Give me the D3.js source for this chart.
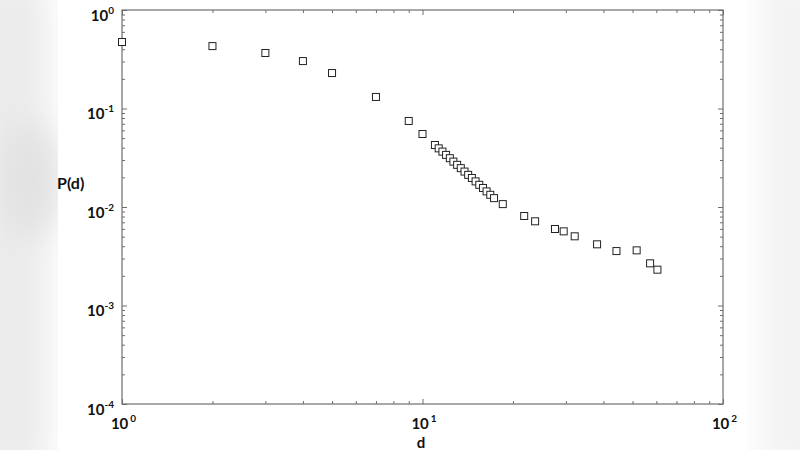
<!DOCTYPE html>
<html><head><meta charset="utf-8">
<script src="https://cdn.jsdelivr.net/npm/d3@7"></script>
<style>body{margin:0;background:#fff;}svg{display:block;}</style>
</head><body>
<svg id="c" width="800" height="450"></svg>
<script>
const dValues = [1,2,3,4,5,7,9,10,
  11.0,11.32,11.65,11.98,12.33,12.67,13.04,13.41,13.80,14.19,14.60,15.02,15.45,15.90,16.34,16.81,17.30,
  18.5,21.8,23.7,27.6,29.5,32.1,38.1,44.2,51.6,57.2,60.5];
const pValues = [0.473,0.43,0.366,0.303,0.229,0.131,0.0747,0.0551,
  0.0426,0.0394,0.0365,0.0338,0.0313,0.0289,0.0268,0.0248,0.0229,0.0212,0.0197,0.0182,0.0168,0.0156,0.0144,0.0133,0.0123,
  0.0107,0.0081,0.00716,0.00598,0.00566,0.00504,0.00418,0.00357,0.00363,0.00268,0.00231];
const xMajor = [1,10,100];
const xExp = ["0","1","2"];
const yMajor = [1,0.1,0.01,0.001,0.0001];
const yExp = ["0","-1","-2","-3","-4"];
const xLabel = "d", yLabel = "P(d)";

const svg = d3.select("#c");
const W=800,H=450;
const m = {l:122, r:723, t:10, b:404};

// soft background
const defs = svg.append("defs");
const f = defs.append("filter").attr("id","bl").attr("x","-50%").attr("y","-50%").attr("width","200%").attr("height","200%");
f.append("feGaussianBlur").attr("stdDeviation",16);
svg.append("rect").attr("width",W).attr("height",H).attr("fill","#fff");
svg.append("rect").attr("x",-30).attr("y",-20).attr("width",78).attr("height",490).attr("fill","#ebebeb").attr("filter","url(#bl)");
svg.append("ellipse").attr("cx",30).attr("cy",180).attr("rx",30).attr("ry",60).attr("fill","#e2e2e2").attr("filter","url(#bl)");
svg.append("rect").attr("x",760).attr("y",-20).attr("width",100).attr("height",490).attr("fill","#f3f3f3").attr("filter","url(#bl)");
svg.append("rect").attr("x",58).attr("y",0).attr("width",690).attr("height",H).attr("fill","#fff");

const x = d3.scaleLog().domain([1,100]).range([m.l,m.r]);
const y = d3.scaleLog().domain([1e-4,1]).range([m.b,m.t]);

const minorX = [];
for (let dec of [1,10]) for (let k=2;k<=9;k++) minorX.push(dec*k);
const minorY = [];
for (let dec of [1e-4,1e-3,1e-2,1e-1]) for (let k=2;k<=9;k++) minorY.push(dec*k);

const axCol = "#6e6e6e";
function styleAxis(g){
  g.select(".domain").remove();
  g.selectAll(".tick line").attr("stroke",axCol).attr("stroke-width",1);
}
function supLabels(g, exps, isY){
  g.selectAll(".tick text").each(function(v,i){
    const t = d3.select(this).text(null)
      .attr("font-family","Lato, 'Open Sans', sans-serif").attr("font-weight","bold")
      .attr("fill","#111").attr("font-size",15);
    t.append("tspan").text("10");
    t.append("tspan").text(exps[i]).attr("font-size",10).attr("dy",-7).attr("dx",isY?0:2);
  });
}
// bottom
svg.append("g").attr("transform",`translate(0,${m.b})`)
  .call(d3.axisBottom(x).tickValues(minorX).tickSize(-3).tickFormat(""))
  .call(styleAxis);
svg.append("g").attr("transform",`translate(0,${m.b})`)
  .call(d3.axisBottom(x).tickValues(xMajor).tickSize(-5))
  .call(styleAxis)
  .call(g=>supLabels(g,xExp,false))
  .call(g=>g.selectAll(".tick text").attr("text-anchor","middle").attr("dx",1).attr("y",25).attr("dy",null));
// top
svg.append("g").attr("transform",`translate(0,${m.t})`)
  .call(d3.axisTop(x).tickValues(minorX).tickSize(-3).tickFormat(""))
  .call(styleAxis);
svg.append("g").attr("transform",`translate(0,${m.t})`)
  .call(d3.axisTop(x).tickValues(xMajor).tickSize(-5).tickFormat(""))
  .call(styleAxis);
// left
svg.append("g").attr("transform",`translate(${m.l},0)`)
  .call(d3.axisLeft(y).tickValues(minorY).tickSize(-3).tickFormat(""))
  .call(styleAxis);
svg.append("g").attr("transform",`translate(${m.l},0)`)
  .call(d3.axisLeft(y).tickValues(yMajor).tickSize(-5).tickPadding(8))
  .call(styleAxis)
  .call(g=>supLabels(g,yExp,true))
  .call(g=>g.selectAll(".tick text").attr("y",10).attr("dy",null));
// right
svg.append("g").attr("transform",`translate(${m.r},0)`)
  .call(d3.axisRight(y).tickValues(minorY).tickSize(-3).tickFormat(""))
  .call(styleAxis);
svg.append("g").attr("transform",`translate(${m.r},0)`)
  .call(d3.axisRight(y).tickValues(yMajor).tickSize(-5).tickFormat(""))
  .call(styleAxis);

// frame
svg.append("rect").attr("x",m.l).attr("y",m.t).attr("width",m.r-m.l).attr("height",m.b-m.t)
  .attr("fill","none").attr("stroke",axCol).attr("stroke-width",1.2);

// axis titles
svg.append("text").attr("x",421).attr("y",448).attr("text-anchor","middle")
  .attr("font-family","Lato, 'Open Sans', sans-serif").attr("font-weight","bold").attr("font-size",15).attr("fill","#111").text(xLabel);
svg.append("text").attr("x",57).attr("y",189)
  .attr("font-family","Lato, 'Open Sans', sans-serif").attr("font-weight","bold").attr("font-size",16).attr("fill","#111").text(yLabel);

// points
const s = 7;
svg.append("g").selectAll("rect").data(dValues.map((d,i)=>[d,pValues[i]])).join("rect")
  .attr("x",d=>x(d[0])-s/2).attr("y",d=>y(d[1])-s/2).attr("width",s).attr("height",s)
  .attr("fill","#fff").attr("stroke","#222").attr("stroke-width",1);
</script>
</body></html>
